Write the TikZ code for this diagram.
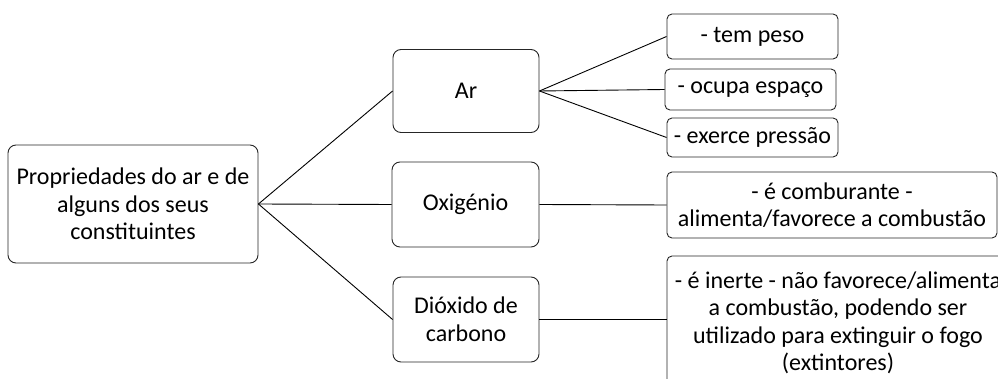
\documentclass[tikz,border=0pt]{standalone}
\usepackage{fontspec}
\setmainfont{Carlito}
\begin{document}
\begin{tikzpicture}[x=1pt,y=-1pt,
  box/.style={draw=black!85,line width=0.9pt,rounded corners=8pt,align=center,inner sep=0pt,font=\fontsize{24}{27.5}\selectfont},
  sbox/.style={box,rounded corners=5pt},
  conn/.style={draw=black,line width=0.9pt}]
\useasboundingbox (0,0) rectangle (998,379);
\clip (0,0) rectangle (998,379);
\node[box,minimum width=250pt,minimum height=118pt] (root) at (133,204) {Propriedades do ar e de\\alguns dos seus\\constituintes};
\node[box,minimum width=146pt,minimum height=83pt] (ar) at (466,91) {Ar};
\node[box,minimum width=147pt,minimum height=85pt] (oxi) at (465.5,204.5) {Oxigénio};
\node[box,minimum width=146pt,minimum height=85pt] (diox) at (466,319.5) {Dióxido de\\carbono};
\node[sbox,minimum width=171pt,minimum height=45pt] (peso) at (752.5,36.5) {- tem peso};
\node[sbox,minimum width=171pt,minimum height=41pt] (espaco) at (750.5,89.5) {- ocupa espaço};
\node[sbox,minimum width=171pt,minimum height=39pt] (pressao) at (752.5,137.5) {- exerce pressão};
\node[sbox,minimum width=330pt,minimum height=66pt] (comb) at (832,205) {- é comburante -\\alimenta/favorece a combustão};
\node[sbox,minimum width=340pt,minimum height=130pt] (inerte) at (837,321) {};
\node[font=\fontsize{24}{27.5}\selectfont,align=center,inner sep=0pt] (inertetxt) at (838,323) {- é inerte - não favorece/alimenta\\a combustão, podendo ser\\utilizado para extinguir o fogo\\(extintores)};
\draw[conn] (root.east) -- (ar.west);
\draw[conn] (root.east) -- (oxi.west);
\draw[conn] (root.east) -- (diox.west);
\draw[conn] (ar.east) -- (peso.west);
\draw[conn] (ar.east) -- (espaco.west);
\draw[conn] (ar.east) -- (pressao.west);
\draw[conn] (oxi.east) -- (comb.west);
\draw[conn] (diox.east) -- (inerte.west |- diox.east);
\end{tikzpicture}
\end{document}
